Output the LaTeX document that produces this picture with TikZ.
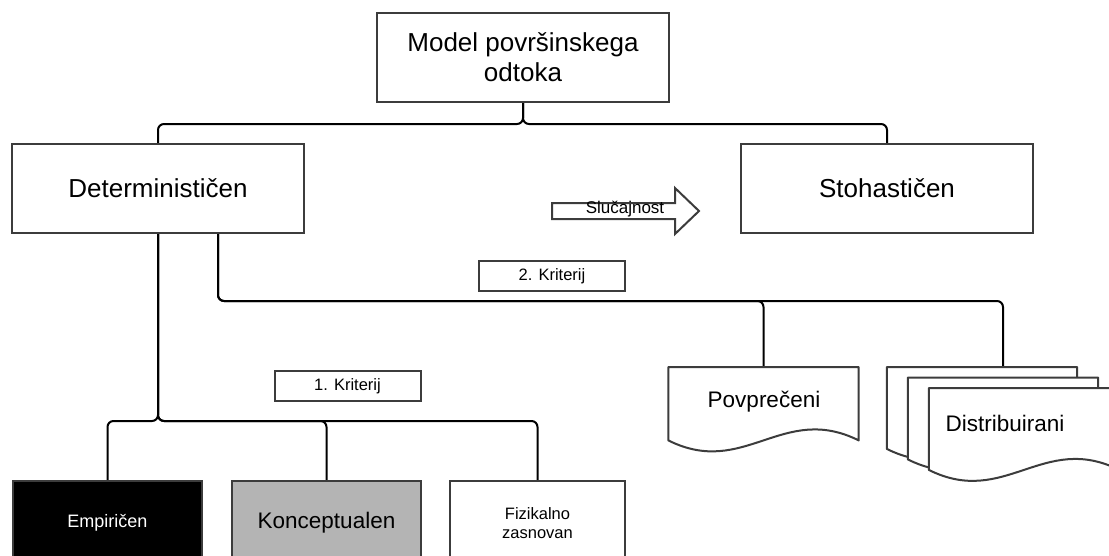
\documentclass[tikz,border=0pt]{standalone}
\usepackage{fontspec}
\setmainfont{Liberation Sans}
\usepackage{tikz}
\usetikzlibrary{backgrounds}

\definecolor{boxline}{HTML}{3C3C3C}
\definecolor{konfill}{HTML}{B4B4B4}

\tikzset{
  box/.style={draw=boxline, line width=2pt, fill=white, minimum width=292pt,
    minimum height=89pt, inner sep=0pt, align=center,
    font=\fontsize{26}{30}\selectfont},
  crit/.style={draw=boxline, line width=2pt, fill=white, minimum width=146pt,
    minimum height=30pt, inner sep=0pt, font=\fontsize{16.5}{19}\selectfont},
  leaf/.style={draw=boxline, line width=2pt, anchor=north, minimum height=84pt,
    inner sep=0pt, align=center},
  sheet/.style={anchor=north, minimum width=190pt, inner sep=0pt},
  docline/.style={draw=boxline, line width=2pt, fill=white, line join=round},
  conn/.style={draw=black, line width=2pt, rounded corners=6pt},
  doctext/.style={font=\fontsize{22.5}{27}\selectfont}
}

\begin{document}
\begin{tikzpicture}[x=1pt,y=-1pt]
\path[use as bounding box] (0,0) rectangle (1109,555);
\clip (0,0) rectangle (1109,555);

% draw main boxes
\node[box] (model) at (523,57.5) {Model površinskega\\odtoka};
\node[box] (det) at (158,188.5) {Determinističen};
\node[box] (stoh) at (887,188.5) {Stohastičen};

% criteria
\node[crit] (crit2) at (552,276) {2. Kriterij};
\node[crit] (crit1) at (347.5,386) {1. Kriterij};

% first criterion
\node[leaf, fill=black, text=white, minimum width=189pt,
  font=\fontsize{18}{21}\selectfont] (emp) at (107.5,480) {Empiričen};
\node[leaf, fill=konfill, minimum width=189pt,
  font=\fontsize{22.5}{26}\selectfont] (konc) at (326.5,480) {Konceptualen};
\node[leaf, fill=white, minimum width=175pt,
  font=\fontsize{16.5}{19}\selectfont] (fiz) at (537.5,480) {Fizikalno\\zasnovan};

% second criterion
\node[sheet, minimum height=73pt] (povp) at (763.5,367) {};
\draw[docline] (povp.north west) -- (povp.south west)
  .. controls ([shift={(76,38)}]povp.south west)
  and ([shift={(-76,-38)}]povp.south east) .. (povp.south east)
  -- (povp.north east) -- cycle;
\node[doctext] (povplabel) at (764,402) {Povprečeni};

\foreach \k in {0,1,2}
{
\node[sheet, minimum height=81.5pt] (dist\k) at ({982+21*\k},{367+10.5*\k}) {};
\draw[docline] (dist\k.north west) -- (dist\k.south west)
  .. controls ([shift={(76,38)}]dist\k.south west)
  and ([shift={(-76,-38)}]dist\k.south east) .. (dist\k.south east)
  -- (dist\k.north east) -- cycle;
}
\node[doctext] (distlabel) at (1005,423) {Distribuirani};

% randomness arrow
\draw[boxline, line width=2pt, line join=miter, fill=white]
  (552,203) -- (675,203) -- (675,188) -- (699,211) -- (675,234)
  -- (675,219) -- (552,219) -- cycle;
\node[font=\fontsize{17}{20}\selectfont] (rand) at (625,209) {Slučajnost};

\begin{scope}[on background layer]
\draw[conn] (model.south) -- ++(0,21) -| (det.north);
\draw[conn] (model.south) -- ++(0,21) -| (stoh.north);

\draw[conn] (det.south) -- ++(0,187) -| (emp.north);
\draw[conn] (det.south) -- ++(0,187) -| (konc.north);
\draw[conn] (det.south) -- ++(0,187) -| (fiz.north);

\draw[conn] ([xshift=60pt]det.south) -- ++(0,67) -| (povp.north);
\draw[conn] ([xshift=60pt]det.south) -- ++(0,67) -| (dist1.north |- dist0.north);
\end{scope}

\end{tikzpicture}
\end{document}
